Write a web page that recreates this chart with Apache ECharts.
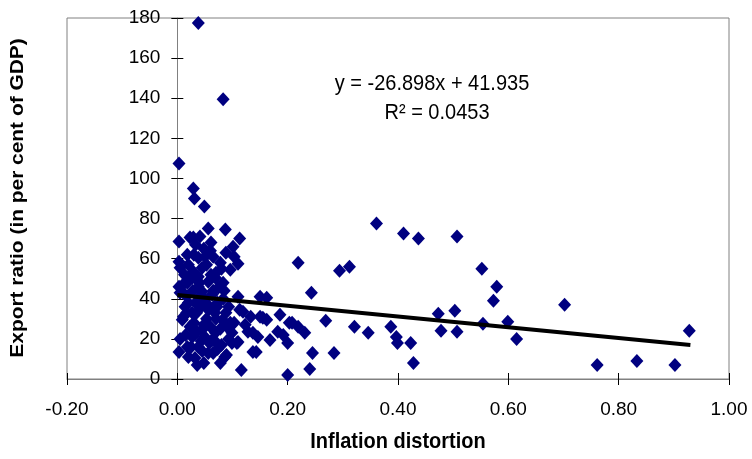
<!DOCTYPE html>
<html><head><meta charset="utf-8">
<script src="https://cdn.jsdelivr.net/npm/echarts@6/dist/echarts.min.js"></script>
<style>html,body{margin:0;padding:0;background:#fff}#c{width:752px;height:459px}</style>
</head><body><div id="c"></div>
<script>
const X_TICK_LABELS = ['-0.20','0.00','0.20','0.40','0.60','0.80','1.00'];
const Y_TICK_LABELS = ['0','20','40','60','80','100','120','140','160','180'];

// Inflation distortion (x) and export ratio (y)
const INFLATION = [
  0.038,0.083,0.003,0.029,0.031,0.049,
  0.056,0.087,0.113,0.003,0.029,0.041,0.023,0.101,0.033,0.065,0.103,0.003,0.005,0.096,
  0.038,0.045,0.029,0.069,0.027,0.056,0.074,0.003,0.005,0.014,0.045,0.050,0.110,0.110,
  0.150,0.162,0.072,0.119,0.011,0.014,0.027,0.056,0.113,0.150,0.186,0.162,0.203,0.096,
  0.082,0.009,0.137,0.036,0.045,0.069,0.027,0.168,0.200,0.108,0.099,0.099,0.063,0.038,
  0.143,0.003,0.020,0.036,0.065,0.089,0.056,0.032,0.086,0.116,0.200,
  0.155,0.128,0.146,0.182,0.110,0.137,0.245,0.240,0.219,0.231,0.219,0.243,0.192,0.208,0.269,
  0.018,0.048,0.061,0.078,0.088,0.053,0.018,0.038,0.063,0.083,0.093,0.033,0.053,0.068,
  0.043,0.078,0.088,0.023,0.048,0.058,0.073,0.018,0.093,0.103,0.123,0.133,0.038,0.083,
  0.061,0.013,0.073,0.028,0.043,0.078,0.048,0.017,0.005,
  0.010,0.020,0.030,0.050,0.060,0.070,0.080,0.040,0.065,0.085,0.020,0.040,0.055,0.030,
  0.060,0.070,0.015,0.050,0.080,0.045,0.025,0.068,0.090,0.035,
  0.361,0.410,0.437,0.507,0.294,0.312,0.552,0.579,0.573,0.473,0.503,0.599,0.554,0.321,
  0.346,0.387,0.478,0.507,0.397,0.399,0.423,0.284,0.428,0.615,0.702,0.928,0.761,0.833,0.902
];
const EXPORT_RATIO = [
  177.5,139.5,107.5,95,90,86,
  75,74.5,70,68.5,70.5,71,70.5,66,67,61,61,58.5,55.5,54.5,
  60.5,55.5,53.5,50.5,50.5,48.5,45.5,46,43,42,43.5,39.5,41,57.5,
  41,40.5,36,33.5,31,36,33,34.5,34.5,31,32,29.5,28,28,
  29.5,29.5,23,23.5,24.5,23,21,19.5,18,18,18,23,19.5,16,
  13.5,13.5,11,7,13,12,13,10.5,11,4.5,2,
  30.5,23.5,21,23.5,18.5,13.5,13,5,58,23,26,43,22,28,29,
  62,65,68,58,63,57,48,46,42,40,36,38,30,33,
  36,25,33,26,27,18,15,16,20,28,27,31,51,48,
  52,52,38,44,19,8,8,33,20,
  47,57,62,61,64,53,55,48,44,44,38,41,37,28,
  26,30,22,21,17,14,16,19,26,33,
  77.5,72.5,70,71,54,56,55,46,39,32.5,34,28.5,27.5,26,
  23,26,24,23.5,21,18,18,13,8,20,37,24,7,9,7
];
const TREND_X = [0.0, 0.93];
const TREND_Y = [41.9, 16.9];
const EQUATION = 'y = -26.898x + 41.935';
const R2_TEXT = 'R\u00B2 = 0.0453';
const X_TITLE = 'Inflation distortion';
const Y_TITLE = 'Export ratio (in per cent of GDP)';

const FONT = 'Liberation Sans, Arial, sans-serif';
const points = INFLATION.map((x, i) => [x, EXPORT_RATIO[i]]);
const trend = TREND_X.map((x, i) => [x, TREND_Y[i]]);
const X_MIN = -0.2, X_MAX = 1.0, X_INT = 0.2;
const Y_MIN = 0, Y_MAX = 180, Y_INT = 20;
const GRID_LEFT = 67, GRID_RIGHT = 23, GRID_W = 752 - GRID_LEFT - GRID_RIGHT;
// y axis sits at x = 0: shift it inward from the grid's left edge
const Y_AXIS_SHIFT = -GRID_W * (0 - X_MIN) / (X_MAX - X_MIN);

const chart = echarts.init(document.getElementById('c'), null, {renderer: 'canvas'});
chart.setOption({
  animation: false,
  backgroundColor: '#fff',
  grid: {left: GRID_LEFT, right: GRID_RIGHT, top: 18, bottom: 80, show: true, borderColor: '#808080', borderWidth: 1, backgroundColor: 'transparent'},
  xAxis: [
    {type: 'value', min: X_MIN, max: X_MAX, interval: X_INT,
     axisLine: {show: true, onZero: false, lineStyle: {color: '#808080', width: 1}},
     axisTick: {show: true, length: 6, lineStyle: {color: '#000'}},
     axisLabel: {fontSize: 19, color: '#000', fontFamily: FONT, margin: 21,
       formatter: v => X_TICK_LABELS[Math.round((v - X_MIN) / X_INT)]},
     splitLine: {show: false}},
    {type: 'value', min: X_MIN, max: X_MAX, interval: X_INT, position: 'bottom',
     axisLine: {show: false, onZero: false},
     axisTick: {show: true, inside: true, length: 6, lineStyle: {color: '#000'}},
     axisLabel: {show: false}, splitLine: {show: false}}
  ],
  yAxis: [
    {type: 'value', min: Y_MIN, max: Y_MAX, interval: Y_INT, position: 'left', offset: Y_AXIS_SHIFT,
     axisLine: {show: true, onZero: false, lineStyle: {color: '#808080', width: 1}},
     axisTick: {show: true, length: 6, lineStyle: {color: '#000'}},
     axisLabel: {fontSize: 19, color: '#000', fontFamily: FONT, margin: 17,
       formatter: v => Y_TICK_LABELS[Math.round((v - Y_MIN) / Y_INT)]},
     splitLine: {show: false}},
    {type: 'value', min: Y_MIN, max: Y_MAX, interval: Y_INT, position: 'left', offset: Y_AXIS_SHIFT,
     axisLine: {show: false, onZero: false},
     axisTick: {show: true, inside: true, length: 6, lineStyle: {color: '#000'}},
     axisLabel: {show: false}, splitLine: {show: false}}
  ],
  series: [
    {type: 'scatter', xAxisIndex: 0, yAxisIndex: 0, data: points, symbol: 'diamond', symbolSize: [13, 14],
     itemStyle: {color: '#000080', opacity: 1}, z: 3},
    {type: 'line', xAxisIndex: 0, yAxisIndex: 0, data: trend, symbol: 'none', silent: true,
     lineStyle: {color: '#000', width: 4}, z: 4}
  ],
  graphic: [
    {type: 'text', x: 398, y: 442, scaleY: 1.1, style: {text: X_TITLE, fontSize: 20, fontWeight: 'bold', fontFamily: FONT, fill: '#000', align: 'center', verticalAlign: 'middle'}},
    {type: 'text', x: 18, y: 198, rotation: Math.PI / 2, scaleX: 1.1, style: {text: Y_TITLE, fontSize: 19, fontWeight: 'bold', fontFamily: FONT, fill: '#000', align: 'center', verticalAlign: 'middle'}},
    {type: 'text', x: 432, y: 84, scaleY: 1.1, style: {text: EQUATION, fontSize: 20, fontFamily: FONT, fill: '#000', align: 'center', verticalAlign: 'middle'}},
    {type: 'text', x: 437, y: 113, scaleY: 1.1, style: {text: R2_TEXT, fontSize: 20, fontFamily: FONT, fill: '#000', align: 'center', verticalAlign: 'middle'}}
  ]
});
</script></body></html>
